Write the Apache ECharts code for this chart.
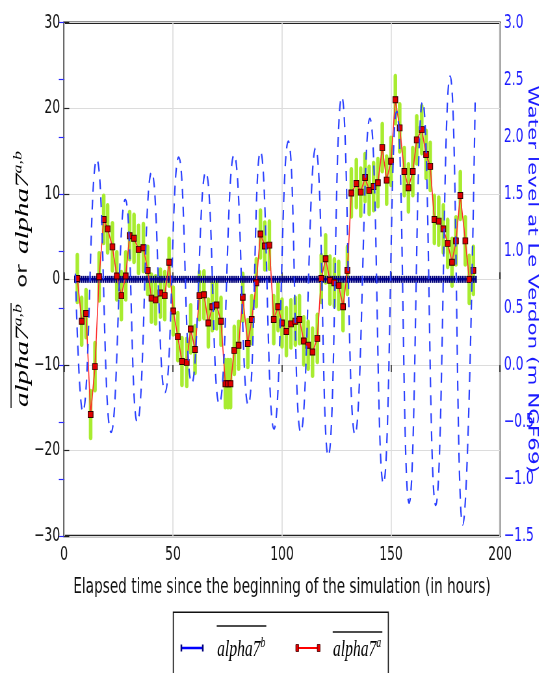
<!DOCTYPE html>
<html>
<head>
<meta charset="utf-8">
<script src="https://cdn.jsdelivr.net/npm/echarts@6/dist/echarts.min.js"></script>
<style>
html,body{margin:0;padding:0;background:#fff;overflow:hidden;width:540px;height:673px;}
#chart{width:831px;height:673px;transform:scaleX(0.65);transform-origin:0 0;}
</style>
</head>
<body>
<div id="chart"></div>
<script>
// ---- data ----
const xTicks = [0, 50, 100, 150, 200];
const leftTicks = [-30, -20, -10, 0, 10, 20, 30];
const rightTicks = [-1.5, -1.0, -0.5, 0.0, 0.5, 1.0, 1.5, 2.0, 2.5, 3.0];

// alpha7^a (red, mean values)
const redHours = [6.1, 8.1, 10.1, 12.2, 14.2, 16.1, 18.2, 20.0, 22.2, 24.2, 26.3, 28.3, 30.1, 32.1, 34.2, 36.4, 38.4, 40.1, 42.0, 44.2, 46.2, 48.2, 50.1, 52.2, 54.1, 56.3, 58.1, 60.1, 62.1, 64.2, 66.2, 68.0, 70.0, 72.0, 74.0, 75.2, 76.4, 78.1, 80.1, 82.0, 84.3, 86.1, 88.2, 90.1, 92.1, 94.2, 96.2, 98.2, 100.0, 102.0, 104.1, 106.1, 108.0, 110.0, 112.0, 114.0, 116.2, 118.0, 120.0, 122.0, 124.0, 126.0, 128.0, 130.0, 131.8, 134.1, 136.1, 138.1, 140.0, 142.0, 144.0, 146.0, 148.0, 150.0, 152.0, 154.0, 156.1, 158.0, 160.0, 161.8, 164.1, 166.1, 168.0, 169.9, 171.9, 174.0, 176.0, 178.0, 179.8, 181.8, 184.1, 185.9, 187.8];
const redValues = [0.1, -4.9, -4.0, -15.8, -10.2, 0.3, 7.0, 5.9, 3.8, 0.4, -1.9, 0.4, 5.1, 4.8, 3.5, 3.7, 1.05, -2.2, -2.4, -1.6, -1.9, 2.0, -3.7, -6.7, -9.6, -9.7, -5.8, -8.2, -1.9, -1.8, -5.1, -3.2, -3.0, -4.9, -12.2, -12.2, -12.2, -8.3, -7.7, -2.1, -7.5, -4.7, -0.4, 5.3, 3.9, 4.0, -4.7, -3.2, -5.1, -6.1, -5.2, -4.9, -4.7, -7.2, -7.7, -8.5, -6.9, 0.1, 2.4, -0.1, -0.4, -0.7, -3.2, 1.05, 10.1, 11.2, 10.2, 11.9, 10.4, 10.85, 11.3, 15.4, 11.6, 13.8, 21.0, 17.7, 12.6, 10.7, 12.6, 16.3, 17.5, 14.6, 13.2, 7.0, 6.8, 5.9, 4.2, 2.0, 4.5, 9.8, 4.5, 0.0, 1.05];
// half-height of the green spread bars around each red point
const greenHalfSpread = 2.7;

// alpha7^b (blue, constant zero, hourly from 5 h to 189 h)
const blueStartHour = 5;
const blueEndHour = 189;
const blueValue = 0;

// Water level at Le Verdon: turning points of the tide curve (hours, m)
const tideHours = [5.2, 8.6, 15.0, 21.6, 28.1, 33.6, 40.2, 46.3, 52.6, 58.6, 65.0, 71.2, 78.0, 84.5, 90.1, 96.3, 102.9, 108.6, 115.4, 121.2, 127.4, 133.5, 140.3, 146.5, 152.6, 158.3, 164.5, 170.5, 177.1, 182.9, 188.6];
const tideLevels = [0.8, -0.41, 1.80, -0.59, 1.45, -0.50, 1.69, -0.24, 1.82, -0.16, 1.69, -0.34, 1.84, -0.35, 1.87, -0.56, 1.96, -0.59, 1.90, -0.80, 2.35, -0.61, 2.16, -1.04, 2.22, -1.21, 2.31, -1.23, 2.53, -1.40, 2.30];

// ---- build ----
const redData = redHours.map((h, i) => [h, redValues[i]]);
const greenData = redHours.map((h, i) => [h, redValues[i] - greenHalfSpread, redValues[i] + greenHalfSpread]);
const blueData = [];
for (let h = blueStartHour; h <= blueEndHour; h++) blueData.push([h, blueValue]);
const tideData = tideHours.map((h, i) => [h, tideLevels[i]]);

const minus = s => String(s).replace('-', '\u2212');
const TICK_FONT = 'DejaVu Sans';
const SERIF = 'Liberation Serif';

const chart = echarts.init(document.getElementById('chart'), null, {renderer: 'canvas'});

const supRich = {
  t: {fontFamily: SERIF, fontStyle: 'italic', fontSize: 29, color: '#111', lineHeight: 32},
  s: {fontFamily: SERIF, fontStyle: 'italic', fontSize: 18, color: '#111', lineHeight: 16, verticalAlign: 'top'}
};
const legRich = {
  t: {fontFamily: SERIF, fontStyle: 'italic', fontSize: 24, color: '#111', lineHeight: 28},
  s: {fontFamily: SERIF, fontStyle: 'italic', fontSize: 15, color: '#111', lineHeight: 12, verticalAlign: 'top'}
};

const option = {
  animation: false,
  backgroundColor: '#fff',
  grid: {left: 98.5, right: 61.8, top: 22.7, bottom: 137, show: true, borderColor: '#222', borderWidth: 2.5,
    backgroundColor: 'transparent', containLabel: false, outerBoundsMode: 'none'},
  xAxis: [{
    type: 'value', min: xTicks[0], max: xTicks[xTicks.length - 1], interval: 50,
    name: 'Elapsed time since the beginning of the simulation (in hours)',
    nameLocation: 'middle', nameGap: 41, nameMoveOverlap: false,
    nameTextStyle: {fontFamily: TICK_FONT, fontSize: 21, color: '#111'},
    axisLine: {show: false},
    axisTick: {show: true, inside: true, length: 7, lineStyle: {color: '#222', width: 1.5}},
    axisLabel: {fontFamily: TICK_FONT, fontSize: 19, color: '#111', margin: 10, formatter: v => minus(v)},
    splitLine: {show: true, lineStyle: {color: '#dcdcdc', width: 1.6}}
  }, {
    type: 'value', position: 'top', min: xTicks[0], max: xTicks[xTicks.length - 1], interval: 50,
    axisLine: {show: false}, axisLabel: {show: false}, splitLine: {show: false},
    axisTick: {show: true, inside: true, length: 7, lineStyle: {color: '#222', width: 1.5}}
  }],
  yAxis: [{
    type: 'value', min: leftTicks[0], max: leftTicks[leftTicks.length - 1], interval: 10,
    axisLine: {show: false},
    axisTick: {show: true, inside: true, length: 8, lineStyle: {color: '#222', width: 1.2}},
    axisLabel: {fontFamily: TICK_FONT, fontSize: 19, color: '#111', margin: 6, formatter: v => minus(v)},
    splitLine: {show: true, lineStyle: {color: '#dcdcdc', width: 1.2}}
  }, {
    type: 'value', position: 'right', min: rightTicks[0], max: rightTicks[rightTicks.length - 1], interval: 0.5,
    name: 'Water level at Le Verdon (m NGF69)', nameLocation: 'middle', nameRotate: -90, nameGap: 38,
    nameMoveOverlap: false,
    nameTextStyle: {fontFamily: TICK_FONT, fontSize: 21.5, color: '#1a1aff'},
    axisLine: {show: false},
    axisTick: {show: true, inside: true, length: 8, lineStyle: {color: '#2a2aff', width: 1.2}},
    axisLabel: {fontFamily: TICK_FONT, fontSize: 19, color: '#1a1aff', margin: 6, formatter: v => minus(v.toFixed(1))},
    splitLine: {show: false}
  }],
  series: [{
    type: 'custom', name: 'spread', xAxisIndex: 0, yAxisIndex: 0, z: 1,
    data: greenData, encode: {x: 0, y: [1, 2]},
    renderItem: (params, api) => {
      const a = api.coord([api.value(0), api.value(1)]);
      const b = api.coord([api.value(0), api.value(2)]);
      return {type: 'line', shape: {x1: a[0], y1: a[1], x2: b[0], y2: b[1]},
        style: {stroke: '#a8ec30', lineWidth: 5.5, lineCap: 'round'}};
    }
  }, {
    type: 'line', name: 'alpha7b', xAxisIndex: 0, yAxisIndex: 0, z: 2,
    data: blueData, symbol: 'rect', symbolSize: [2.5, 7], showSymbol: true,
    itemStyle: {color: '#00007a'},
    lineStyle: {color: '#0000c8', width: 2.5}
  }, {
    type: 'line', name: 'alpha7a', xAxisIndex: 0, yAxisIndex: 0, z: 3,
    data: redData, symbol: 'rect', symbolSize: [7.5, 6], showSymbol: true,
    itemStyle: {color: '#e00000', borderColor: '#300000', borderWidth: 1},
    lineStyle: {color: '#ff2a2a', width: 1.6}
  }, {
    type: 'line', name: 'tide', xAxisIndex: 0, yAxisIndex: 1, z: 4,
    data: tideData, smooth: 0.5, showSymbol: false, symbol: 'none',
    lineStyle: {color: '#2a40ff', width: 2.2, type: [10, 8]}
  }],
  graphic: [
    // left axis title
    {type: 'line', shape: {x1: 17, y1: 303, x2: 17, y2: 408}, style: {stroke: '#111', lineWidth: 1.6}},
    {type: 'text', x: 35, y: 407, rotation: Math.PI / 2,
      style: {text: '{t|alpha7}{s|a,b}', rich: supRich, align: 'left', verticalAlign: 'middle'}},
    {type: 'text', x: 35, y: 276, rotation: Math.PI / 2,
      style: {text: 'or', fontFamily: TICK_FONT, fontSize: 23, fill: '#111', align: 'center', verticalAlign: 'middle'}},
    {type: 'text', x: 35, y: 254, rotation: Math.PI / 2,
      style: {text: '{t|alpha7}{s|a,b}', rich: supRich, align: 'left', verticalAlign: 'middle'}},
    // legend box
    {type: 'rect', shape: {x: 266.6, y: 612.3, width: 330.8, height: 80}, style: {fill: '#fff', stroke: '#111', lineWidth: 1.6}},
    // blue entry
    {type: 'line', shape: {x1: 279, y1: 648, x2: 312, y2: 648}, style: {stroke: '#0000ff', lineWidth: 2.5}},
    {type: 'line', shape: {x1: 279, y1: 644.5, x2: 279, y2: 651.5}, style: {stroke: '#00007a', lineWidth: 2.5}},
    {type: 'line', shape: {x1: 312, y1: 644.5, x2: 312, y2: 651.5}, style: {stroke: '#00007a', lineWidth: 2.5}},
    {type: 'line', shape: {x1: 333.4, y1: 626, x2: 409.7, y2: 626}, style: {stroke: '#111', lineWidth: 1.6}},
    {type: 'text', x: 334, y: 650, style: {text: '{t|alpha7}{s|b}', rich: legRich, align: 'left', verticalAlign: 'middle'}},
    // red entry
    {type: 'line', shape: {x1: 457, y1: 648, x2: 490, y2: 648}, style: {stroke: '#ff0000', lineWidth: 2}},
    {type: 'rect', shape: {x: 455, y: 644.5, width: 4.5, height: 7}, style: {fill: '#e00000', stroke: '#400000', lineWidth: 0.8}},
    {type: 'rect', shape: {x: 488, y: 644.5, width: 4.5, height: 7}, style: {fill: '#e00000', stroke: '#400000', lineWidth: 0.8}},
    {type: 'line', shape: {x1: 511.8, y1: 632, x2: 588.2, y2: 632}, style: {stroke: '#111', lineWidth: 1.6}},
    {type: 'text', x: 512.3, y: 650, style: {text: '{t|alpha7}{s|a}', rich: legRich, align: 'left', verticalAlign: 'middle'}}
  ]
};
chart.setOption(option);
</script>
</body>
</html>
